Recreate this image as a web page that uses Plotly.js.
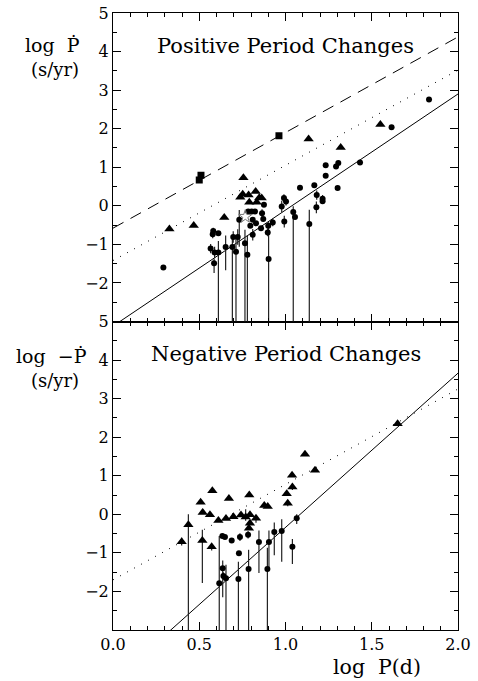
<!DOCTYPE html>
<html><head><meta charset="utf-8">
<script src="https://cdn.plot.ly/plotly-3.0.1.min.js"></script>
<style>html,body{margin:0;padding:0;background:#fff}#chart{width:478px;height:681px}</style>
</head><body><div id="chart"></div>
<script>
// ---------- Top panel: positive period changes ----------
const posCircX = [0.292,0.566,0.581,0.578,0.589,0.586,0.611,0.611,0.653,0.692,0.697,0.713,0.723,0.732,0.765,0.779,0.784,0.796,0.804,0.810,0.810,0.823,0.829,0.858,0.864,0.875,0.871,0.900,0.897,0.902,0.926,0.978,0.991,1.003,0.993,1.045,1.055,1.084,1.138,1.167,1.181,1.179,1.215,1.215,1.233,1.233,1.293,1.306,1.302,1.432,1.615,1.832];
const posCircY = [-1.60,-1.11,-0.65,-0.74,-1.21,-1.49,-0.71,-1.21,-1.07,-1.07,-0.81,-1.19,-0.81,-0.36,-0.97,-1.27,-0.15,-0.52,-0.15,-0.36,-0.75,-0.15,-0.45,-0.58,-0.19,0.03,-0.34,-0.52,-0.69,-1.38,-0.43,-0.02,0.20,0.11,-0.41,-0.16,-0.29,0.47,-0.47,0.53,0.28,-0.04,0.18,0.12,1.05,0.78,1.02,1.11,0.46,1.12,2.04,2.76];
const posCircErrUp = [0,0.12,0.08,0.10,0.15,0.12,0.05,0.30,0.30,0.25,0.15,0.35,0.20,0.25,0.35,0.50,0,0,0,0,0.15,0,0,0,0.10,0,0,0.10,0.10,0.80,0.10,0.15,0.10,0.10,0.15,0.15,0,0,0.37,0,0.12,0.15,0.10,0,0,0,0,0,0,0,0,0];
const posCircErrDn = [0,0.12,0.08,0.10,0.15,0.25,0.05,3,0.60,3,0.15,3,0.20,0.70,3,3,0,0,0,0,0.15,0,0,0,0.10,0,0,0.10,0.10,3,0.10,0.15,0.10,0.10,0.15,3,0,0,3,0,0.12,0.15,0.10,0,0,0,0,0,0,0,0,0];
const posTriX = [0.327,0.468,0.645,0.738,0.752,0.786,0.827,0.790,0.833,0.848,0.862,0.756,1.134,1.320,1.550];
const posTriY = [-0.60,-0.51,-0.30,0.22,0.30,0.28,0.37,0.09,0.09,0.21,0.20,0.73,1.73,1.51,2.11];
const posSqX = [0.500,0.510,0.962];
const posSqY = [0.67,0.79,1.82];
const posStarX = [0.767];
const posStarY = [-0.28];
// fitted lines (end points)
const lineX = [0, 2];
const posDashY = [-0.58, 4.38];
const posDotY = [-1.42, 3.52];
const posSolidY = [-3.12, 2.90];

// ---------- Bottom panel: negative period changes ----------
const negCircX = [0.616,0.636,0.640,0.655,0.634,0.649,0.688,0.730,0.736,0.727,0.783,0.786,0.846,0.895,0.904,0.935,0.978,1.040,1.065];
const negCircY = [-1.79,-1.40,-1.60,-1.66,-0.56,-0.59,-0.68,-1.01,-0.59,-1.68,-0.53,-1.42,-0.72,-1.42,-0.72,-0.46,-0.43,-0.84,-0.10];
const negCircErrUp = [1.23,0.20,0.10,0.35,0,0,0,0,0.10,0.45,0.10,0.50,0.30,0.55,0.30,0.25,0.30,0.20,0.10];
const negCircErrDn = [3,0.75,0.10,3,0,0,0,0,0.10,3,0.10,3,0.80,3,0.70,0.60,0.80,0.45,0.15];
const negTriX = [0.398,0.437,0.508,0.520,0.518,0.562,0.576,0.572,0.611,0.655,0.672,0.698,0.742,0.769,0.790,0.794,0.794,0.788,0.829,0.877,0.897,1.007,1.013,1.038,1.040,1.113,1.171,1.650];
const negTriY = [-0.71,-0.27,0.31,0.05,-0.68,-0.01,0.61,-0.84,-0.16,-0.11,0.41,-0.06,-0.02,-0.07,0.50,-0.01,-0.23,-0.36,-0.10,0.23,0.20,0.53,0.29,1.01,0.71,1.56,1.14,2.35];
const negTriErrUp = [0.10,0.27,0,0,0.28,0,0,0,0,0,0,0,0,0.20,0,0,0,0,0,0,0,0,0.08,0,0.08,0,0,0];
const negTriErrDn = [0.10,3,0,0,1.10,0,0,0.10,0,0,0,0,0,0.10,0,0,0,0,0.12,0,0,0,0.08,0,0.08,0,0,0];
const negSolidY = [-4.34, 3.66];
const negDotY = [-1.70, 3.25];

// ---------- axis labels ----------
const xTickVals = [0, 0.5, 1, 1.5, 2];
const xTickText = ['0.0','0.5','1.0','1.5','2.0'];
const yTickVals = [-2,-1,0,1,2,3,4,5];
const yTickText = ['\u22122','\u22121','0','1','2','3','4','5'];

const BLACK = '#000';
const serif = 'DejaVu Serif, Liberation Serif, serif';

function circ(x, y, eu, ed, xa, ya) {
  return {x, y, xaxis: xa, yaxis: ya, type: 'scatter', mode: 'markers',
    marker: {symbol: 'circle', size: 6, color: BLACK},
    error_y: {type: 'data', symmetric: false, array: eu, arrayminus: ed, color: '#222', thickness: 1.2, width: 0},
    showlegend: false, hoverinfo: 'skip'};
}
function pts(x, y, sym, size, xa, ya, extra) {
  return Object.assign({x, y, xaxis: xa, yaxis: ya, type: 'scatter', mode: 'markers',
    marker: {symbol: sym, size: size, color: BLACK}, showlegend: false, hoverinfo: 'skip'}, extra || {});
}
function line(x, y, dash, xa, ya) {
  return {x, y, xaxis: xa, yaxis: ya, type: 'scatter', mode: 'lines',
    line: {color: BLACK, width: 1, dash: dash}, showlegend: false, hoverinfo: 'skip'};
}

const traces = [
  line(lineX, posDashY, '12px,8px', 'x2', 'y2'),
  line(lineX, posDotY, '1px,7px', 'x2', 'y2'),
  line(lineX, posSolidY, 'solid', 'x2', 'y2'),
  circ(posCircX, posCircY, posCircErrUp, posCircErrDn, 'x2', 'y2'),
  pts(posTriX, posTriY, 'triangle-up', 9, 'x2', 'y2'),
  pts(posSqX, posSqY, 'square', 7, 'x2', 'y2'),
  pts(posStarX, posStarY, 'star-open', 10, 'x2', 'y2', {marker: {symbol: 'star-open', size: 10, color: '#777', line: {width: 1, color: '#777'}}}),
  line(lineX, negDotY, '1px,7px', 'x', 'y'),
  line(lineX, negSolidY, 'solid', 'x', 'y'),
  circ(negCircX, negCircY, negCircErrUp, negCircErrDn, 'x', 'y'),
  pts(negTriX, negTriY, 'triangle-up', 9, 'x', 'y', {error_y: {type: 'data', symmetric: false, array: negTriErrUp, arrayminus: negTriErrDn, color: '#222', thickness: 1.2, width: 0}})
];

function range(a, b, s) { const r = []; for (let v = a; v <= b + 1e-9; v += s) r.push(+v.toFixed(3)); return r; }

const xCommon = {
  range: [0, 2], tickmode: 'array', tickvals: xTickVals, ticktext: xTickText,
  ticks: 'inside', ticklen: 8, tickwidth: 1, tickcolor: BLACK,
  minor: {tickmode: 'array', tickvals: range(0, 2, 0.1), ticks: 'inside', ticklen: 4, tickwidth: 1, tickcolor: BLACK, showgrid: false},
  showline: true, linecolor: BLACK, linewidth: 1, mirror: 'allticks', showgrid: false, zeroline: false,
  tickfont: {family: serif, size: 16, color: BLACK}
};
const yCommon = {
  range: [-3, 5], tickmode: 'array', tickvals: yTickVals, ticktext: yTickText,
  ticks: 'inside', ticklen: 8, tickwidth: 1, tickcolor: BLACK,
  minor: {tickmode: 'array', tickvals: range(-3, 5, 0.5), ticks: 'inside', ticklen: 4, tickwidth: 1, tickcolor: BLACK, showgrid: false},
  showline: true, linecolor: BLACK, linewidth: 1, mirror: 'allticks', showgrid: false, zeroline: false,
  tickfont: {family: serif, size: 16, color: BLACK}
};

const ann = (text, x, y, size, xref, yref) => ({text, x, y, xref: xref || 'paper', yref: yref || 'paper', showarrow: false,
  xanchor: 'center', yanchor: 'middle', font: {family: serif, size: size, color: BLACK}});

const layout = {
  width: 478, height: 681,
  margin: {l: 113, r: 20, t: 13, b: 51},
  paper_bgcolor: '#fff', plot_bgcolor: '#fff',
  showlegend: false,
  xaxis: Object.assign({}, xCommon, {anchor: 'y', domain: [0, 1]}),
  yaxis: Object.assign({}, yCommon, {anchor: 'x', domain: [0, 0.5]}),
  xaxis2: Object.assign({}, xCommon, {anchor: 'y2', domain: [0, 1], showticklabels: false, matches: 'x'}),
  yaxis2: Object.assign({}, yCommon, {anchor: 'x2', domain: [0.5, 1]}),
  annotations: [
    ann('Positive Period Changes', 1.0, 4.15, 21, 'x2', 'y2'),
    ann('Negative Period Changes', 1.0, 4.16, 21, 'x', 'y'),
    ann('log  \u1E56', -0.174, 0.948, 19),
    ann('(s/yr)', -0.168, 0.908, 18),
    ann('log  \u2212\u1E56', -0.177, 0.444, 19),
    ann('(s/yr)', -0.168, 0.404, 18),
    ann('log  P(d)', 0.765, -0.06, 20.5)
  ]
};

Plotly.newPlot('chart', traces, layout, {staticPlot: true, displayModeBar: false});
</script>
</body></html>
